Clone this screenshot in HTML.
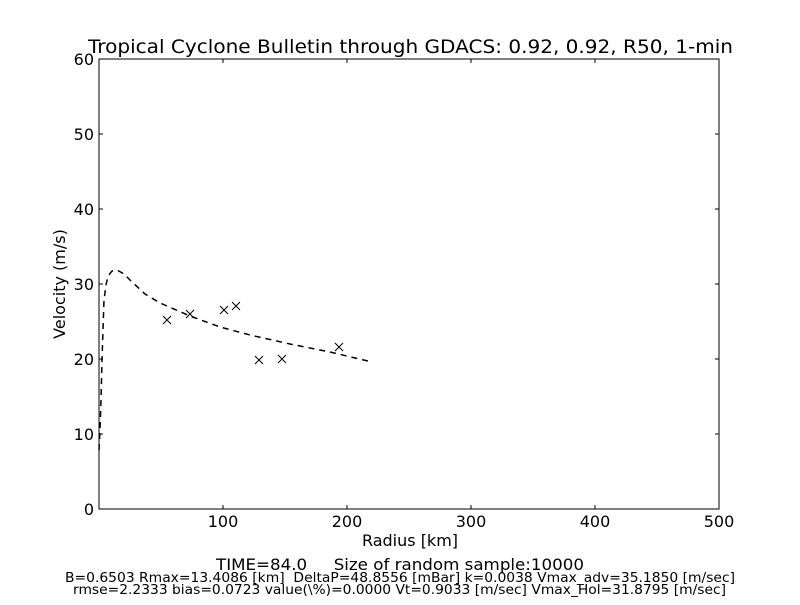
<!DOCTYPE html>
<html><head><style>body{margin:0;background:#fff}text{white-space:pre}</style></head><body>
<svg width="800" height="600" xmlns="http://www.w3.org/2000/svg" font-family="'DejaVu Sans','Liberation Sans',sans-serif">
<rect width="800" height="600" fill="#fff"/>
<text x="88" y="53" font-size="19" textLength="645" lengthAdjust="spacingAndGlyphs">Tropical Cyclone Bulletin through GDACS: 0.92, 0.92, R50, 1-min</text>
<rect x="99" y="59" width="620" height="450" fill="none" stroke="#000" stroke-width="1"/>
<g stroke="#000" stroke-width="1">
<line x1="223" y1="509" x2="223" y2="505"/><line x1="347" y1="509" x2="347" y2="505"/><line x1="471" y1="509" x2="471" y2="505"/><line x1="595" y1="509" x2="595" y2="505"/>
<line x1="223" y1="59" x2="223" y2="63"/><line x1="347" y1="59" x2="347" y2="63"/><line x1="471" y1="59" x2="471" y2="63"/><line x1="595" y1="59" x2="595" y2="63"/>
<line x1="99" y1="434" x2="103" y2="434"/><line x1="99" y1="359" x2="103" y2="359"/><line x1="99" y1="284" x2="103" y2="284"/><line x1="99" y1="209" x2="103" y2="209"/><line x1="99" y1="134" x2="103" y2="134"/>
<line x1="719" y1="434" x2="715" y2="434"/><line x1="719" y1="359" x2="715" y2="359"/><line x1="719" y1="284" x2="715" y2="284"/><line x1="719" y1="209" x2="715" y2="209"/><line x1="719" y1="134" x2="715" y2="134"/>
</g>
<g font-size="16" text-anchor="middle">
<text x="223" y="527">100</text><text x="347" y="527">200</text><text x="471" y="527">300</text><text x="595" y="527">400</text><text x="719" y="527">500</text>
</g>
<g font-size="16" text-anchor="end">
<text x="94" y="515">0</text><text x="94" y="440">10</text><text x="94" y="365">20</text><text x="94" y="290">30</text><text x="94" y="215">40</text><text x="94" y="140">50</text><text x="94" y="65">60</text>
</g>
<text x="410" y="546" font-size="16" text-anchor="middle">Radius [km]</text>
<text transform="translate(65,284) rotate(-90)" font-size="16" text-anchor="middle">Velocity (m/s)</text>
<polyline fill="none" stroke="#000" stroke-width="1.5" stroke-dasharray="6,5" points="99,450 100,430 101,400 102,360 103,330 104,300 106,285 108,276 112,271 117,270 124,274 130,280 145,294 160,303 190,316 220,327 250,335 290,344 330,352 372,362"/>
<g stroke="#000" stroke-width="1">
<path d="M163,316l8,8M171,316l-8,8 M186,310l8,8M194,310l-8,8 M220,306l8,8M228,306l-8,8 M232,302l8,8M240,302l-8,8 M255,356l8,8M263,356l-8,8 M278,355l8,8M286,355l-8,8 M335,343l8,8M343,343l-8,8"/>
</g>
<text x="216" y="570" font-size="16" textLength="368" lengthAdjust="spacingAndGlyphs">TIME=84.0     Size of random sample:10000</text>
<text x="65" y="582" font-size="13" textLength="670" lengthAdjust="spacingAndGlyphs">B=0.6503 Rmax=13.4086 [km]  DeltaP=48.8556 [mBar] k=0.0038 Vmax_adv=35.1850 [m/sec]</text>
<text x="73" y="594" font-size="13" textLength="653" lengthAdjust="spacingAndGlyphs">rmse=2.2333 bias=0.0723 value(\%)=0.0000 Vt=0.9033 [m/sec] Vmax_Hol=31.8795 [m/sec]</text>
</svg>
</body></html>
